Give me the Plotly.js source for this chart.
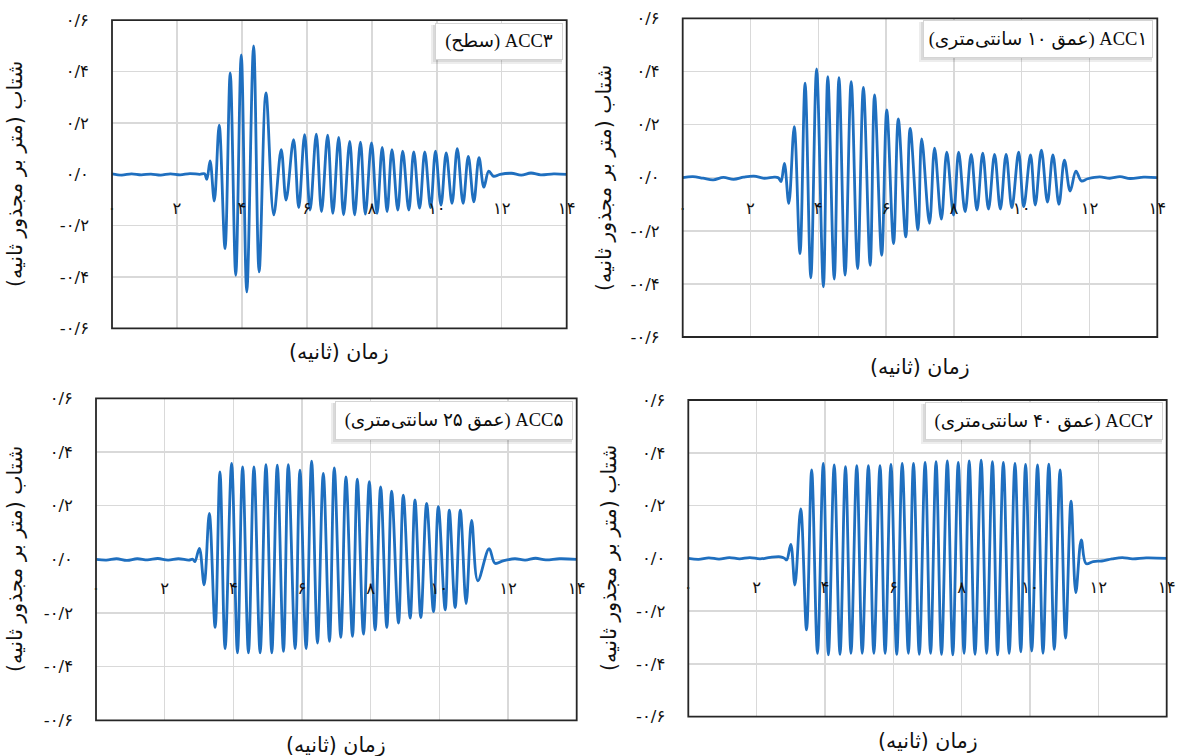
<!DOCTYPE html>
<html>
<head>
<meta charset="utf-8">
<script src="https://cdn.plot.ly/plotly-3.0.1.min.js"></script>
<style>
  html, body { margin: 0; padding: 0; background: #ffffff; }
  #chart { width: 1177px; height: 756px; }
</style>
</head>
<body>
<div id="chart"></div>
<script>
// Acceleration time histories at four sensor depths (time in s, acceleration in m/s²)

// ACC3 – surface
const acc3Time = [0, 0.3, 0.6, 0.9, 1.2, 1.5, 1.8, 2.1, 2.4, 2.7, 2.85,
  2.92, 3.02, 3.15, 3.30, 3.48, 3.64, 3.81, 3.98, 4.15, 4.36,
  4.53, 4.74, 4.98, 5.21, 5.36, 5.59, 5.75, 5.93, 6.10, 6.29,
  6.45, 6.64, 6.80, 6.98, 7.13, 7.32, 7.47, 7.65, 7.80, 7.99,
  8.16, 8.32, 8.47, 8.62, 8.80, 8.95, 9.14, 9.29, 9.47, 9.63,
  9.81, 9.96, 10.13, 10.29, 10.47, 10.63, 10.81, 10.97, 11.14, 11.30,
  11.45, 11.60, 11.75,
  11.95, 12.3, 12.6, 12.9, 13.2, 13.6, 14.0];
const acc3Accel = [0.002, -0.003, 0.002, -0.002, 0.001, -0.003, 0.002, -0.002, 0.003, 0.000, 0.002,
  -0.020, 0.052, -0.104, 0.191, -0.289, 0.395, -0.393, 0.465, -0.458, 0.500,
  -0.380, 0.317, -0.158, 0.096, -0.100, 0.135, -0.130, 0.154, -0.139, 0.156,
  -0.145, 0.152, -0.152, 0.144, -0.158, 0.128, -0.158, 0.125, -0.155, 0.122,
  -0.152, 0.105, -0.145, 0.096, -0.139, 0.090, -0.139, 0.087, -0.132, 0.087,
  -0.130, 0.090, -0.120, 0.083, -0.113, 0.100, -0.113, 0.070, -0.107, 0.065,
  -0.050, 0.012, -0.008,
  0.000, 0.004, -0.003, 0.005, -0.002, 0.002, 0.000];

// ACC1 – 10 cm depth
const acc1Time = [0, 0.3, 0.6, 0.9, 1.2, 1.5, 1.8, 2.1, 2.4, 2.7, 2.82,
  2.90, 3.00, 3.13, 3.29, 3.46, 3.61, 3.78, 3.95, 4.15, 4.28,
  4.47, 4.61, 4.79, 4.97, 5.16, 5.33, 5.53, 5.66, 5.87, 6.02,
  6.22, 6.36, 6.58, 6.71, 6.94, 7.05, 7.28, 7.43, 7.63, 7.79,
  7.99, 8.14, 8.33, 8.51, 8.68, 8.85, 9.02, 9.20, 9.37, 9.54,
  9.71, 9.91, 10.06, 10.26, 10.40, 10.58, 10.76, 10.92, 11.10, 11.26,
  11.43, 11.60, 11.76,
  11.95, 12.3, 12.6, 12.9, 13.2, 13.6, 14.0];
const acc1Accel = [0.000, 0.004, -0.002, -0.008, 0.001, -0.006, 0.002, 0.006, -0.002, 0.002, 0.000,
  -0.015, 0.054, -0.097, 0.192, -0.286, 0.356, -0.377, 0.410, -0.411, 0.381,
  -0.382, 0.377, -0.367, 0.362, -0.342, 0.340, -0.330, 0.312, -0.292, 0.255,
  -0.248, 0.221, -0.223, 0.186, -0.197, 0.146, -0.172, 0.111, -0.156, 0.096,
  -0.141, 0.096, -0.128, 0.088, -0.122, 0.092, -0.118, 0.088, -0.118, 0.088,
  -0.113, 0.096, -0.109, 0.086, -0.103, 0.104, -0.092, 0.086, -0.100, 0.066,
  -0.050, 0.025, -0.012,
  -0.004, 0.003, -0.002, 0.004, -0.003, 0.002, 0.000];

// ACC5 – 25 cm depth
const acc5Time = [0, 0.3, 0.6, 0.9, 1.2, 1.5, 1.8, 2.1, 2.4, 2.7, 2.82,
  2.88, 3.01, 3.15, 3.30, 3.47, 3.61, 3.76, 3.95, 4.12, 4.27,
  4.44, 4.60, 4.78, 4.95, 5.12, 5.28, 5.46, 5.60, 5.80, 5.94,
  6.12, 6.28, 6.45, 6.62, 6.80, 6.94, 7.13, 7.28, 7.47, 7.61,
  7.79, 7.96, 8.13, 8.29, 8.47, 8.61, 8.81, 8.95, 9.15, 9.29,
  9.46, 9.63, 9.83, 9.97, 10.17, 10.29, 10.46, 10.61, 10.78, 10.94,
  11.12, 11.45, 11.62,
  11.85, 12.2, 12.5, 12.8, 13.1, 13.5, 14.0];
const acc5Accel = [0.000, -0.003, 0.002, -0.004, 0.002, -0.002, 0.003, -0.003, 0.002, -0.003, 0.000,
  -0.009, 0.041, -0.095, 0.171, -0.254, 0.326, -0.333, 0.357, -0.349, 0.344,
  -0.349, 0.344, -0.349, 0.353, -0.349, 0.351, -0.343, 0.353, -0.333, 0.332,
  -0.333, 0.366, -0.312, 0.320, -0.306, 0.341, -0.291, 0.307, -0.287, 0.299,
  -0.279, 0.289, -0.263, 0.270, -0.254, 0.254, -0.238, 0.239, -0.219, 0.221,
  -0.217, 0.208, -0.195, 0.196, -0.188, 0.183, -0.180, 0.183, -0.165, 0.145,
  -0.080, 0.040, -0.015,
  -0.006, 0.002, -0.003, 0.004, -0.002, 0.002, 0.000];

// ACC2 – 40 cm depth
const acc2Time = [0, 0.3, 0.6, 0.9, 1.2, 1.5, 1.8, 2.1, 2.4, 2.7, 2.82,
  2.88, 3.00, 3.12, 3.29, 3.46, 3.61, 3.78, 3.95, 4.10, 4.27,
  4.44, 4.60, 4.76, 4.93, 5.09, 5.27, 5.43, 5.61, 5.76, 5.93,
  6.10, 6.26, 6.44, 6.59, 6.76, 6.93, 7.09, 7.25, 7.41, 7.58,
  7.74, 7.90, 8.07, 8.22, 8.39, 8.57, 8.73, 8.90, 9.05, 9.22,
  9.39, 9.56, 9.73, 9.87, 10.05, 10.22, 10.38, 10.55, 10.71, 10.88,
  11.04, 11.20, 11.34, 11.50, 11.64,
  11.85, 12.1, 12.4, 12.7, 13.0, 13.4, 14.0];
const acc2Accel = [0.000, -0.004, 0.002, -0.003, 0.003, -0.002, 0.003, -0.002, 0.004, 0.006, 0.000,
  -0.006, 0.053, -0.101, 0.187, -0.271, 0.335, -0.360, 0.360, -0.366, 0.354,
  -0.364, 0.347, -0.360, 0.351, -0.360, 0.351, -0.360, 0.351, -0.360, 0.356,
  -0.364, 0.360, -0.360, 0.360, -0.364, 0.364, -0.360, 0.366, -0.364, 0.369,
  -0.366, 0.364, -0.360, 0.369, -0.364, 0.372, -0.360, 0.366, -0.366, 0.364,
  -0.360, 0.360, -0.354, 0.356, -0.351, 0.354, -0.360, 0.357, -0.345, 0.335,
  -0.302, 0.217, -0.130, 0.070, -0.020,
  -0.012, -0.010, -0.002, 0.003, -0.002, 0.002, 0.000];

// Axis ticks and labels (Persian numerals)
const timeTickVals = [0, 2, 4, 6, 8, 10, 12, 14];
const timeTickText = ['۰', '۲', '۴', '۶', '۸', '۱۰', '۱۲', '۱۴'];
const accelTickVals = [-0.6, -0.4, -0.2, 0, 0.2, 0.4, 0.6];
const accelTickText = ['-۰/۶', '-۰/۴', '-۰/۲', '۰/۰', '۰/۲', '۰/۴', '۰/۶'];

const seriesNames = ['ACC۳ (سطح)', 'ACC۱ (عمق ۱۰ سانتی\u200cمتری)',
                     'ACC۵ (عمق ۲۵ سانتی\u200cمتری)', 'ACC۲ (عمق ۴۰ سانتی\u200cمتری)'];
const xTitleText = 'زمان (ثانیه)';
const yTitleText = 'شتاب (متر بر مجذور ثانیه)';

// ---------------------------------------------------------------
const W = 1177, H = 756;
const fx = px => px / W;
const fy = py => 1 - py / H;
const rtl = s => '\u202B' + s + '\u202C';

const series = [
  { t: acc3Time, a: acc3Accel },
  { t: acc1Time, a: acc1Accel },
  { t: acc5Time, a: acc5Accel },
  { t: acc2Time, a: acc2Accel }
];

// panel frames in page pixels, name boxes, time-label drop and title anchors
const panels = [
  { l: 112,   r: 566.7,  t: 20.2,  b: 328.4, lab: 22, box: { l: 435, r: 563,  t: 23,  b: 60 },  xt: [339, 352], yt: [15, 174] },
  { l: 682.7, r: 1157.3, t: 18.4,  b: 337,   lab: 19, box: { l: 923, r: 1153, t: 20,  b: 58 },  xt: [920, 367], yt: [604, 178] },
  { l: 96,    r: 576.7,  t: 398.3, b: 720.3, lab: 17, box: { l: 335, r: 573,  t: 401, b: 440 }, xt: [336, 745], yt: [15, 559] },
  { l: 688.3, r: 1166.7, t: 400,   b: 716.7, lab: 17, box: { l: 925, r: 1163, t: 402, b: 440 }, xt: [928, 741], yt: [609, 558] }
];

const lineBlue = '#1f6fbf';
const gridGrey = '#d9d9d9';
const tickFont = { family: 'DejaVu Sans, sans-serif', size: 16.5, color: '#111111' };
const titleFont = { family: 'DejaVu Sans, sans-serif', size: 20.5, color: '#111111' };
const boxFont = { family: 'Liberation Serif, DejaVu Sans, serif', size: 18.5, color: '#0d0d0d' };

const traces = [];
const layout = {
  width: W, height: H,
  margin: { l: 0, r: 0, t: 0, b: 0 },
  paper_bgcolor: '#ffffff',
  plot_bgcolor: '#ffffff',
  showlegend: false,
  shapes: [],
  annotations: []
};

panels.forEach((p, i) => {
  const n = i === 0 ? '' : String(i + 1);
  const xa = 'x' + n, ya = 'y' + n;

  traces.push({
    type: 'scatter', mode: 'lines',
    x: series[i].t, y: series[i].a,
    xaxis: xa, yaxis: ya,
    name: seriesNames[i],
    line: { color: lineBlue, width: 2.8, shape: 'spline', smoothing: 1 },
    hoverinfo: 'skip'
  });

  // time labels sit a little below the zero line, as in the spreadsheet style
  const zeroPx = (p.t + p.b) / 2;
  layout['xaxis' + n] = {
    domain: [fx(p.l), fx(p.r)],
    range: [0, 14],
    anchor: 'free',
    position: fy(zeroPx + p.lab),
    tickmode: 'array', tickvals: timeTickVals, ticktext: timeTickText,
    ticks: '', showline: false, zeroline: false,
    showgrid: true, gridcolor: gridGrey, gridwidth: 1.5,
    tickfont: tickFont, fixedrange: true
  };
  layout['yaxis' + n] = {
    domain: [fy(p.b), fy(p.t)],
    range: [-0.6, 0.6],
    anchor: xa,
    tickmode: 'array', tickvals: accelTickVals, ticktext: accelTickText,
    ticks: '', showline: false, zeroline: false,
    showgrid: true, gridcolor: gridGrey, gridwidth: 1.5,
    ticklabelstandoff: 22,
    tickfont: tickFont, fixedrange: true
  };

  // plot frame
  layout.shapes.push({
    type: 'rect', xref: xa + ' domain', yref: ya + ' domain',
    x0: 0, x1: 1, y0: 0, y1: 1,
    line: { color: '#262626', width: 1.8 }, layer: 'above'
  });

  // soft drop shadow behind the series name box
  const bx = p.box;
  [[4, 0.07], [2, 0.08]].forEach(([o, a]) => {
    layout.shapes.push({
      type: 'rect', xref: 'paper', yref: 'paper',
      x0: fx(bx.l - o), x1: fx(bx.r - 1), y0: fy(bx.b + o), y1: fy(bx.t + 2),
      fillcolor: 'rgba(0,0,0,' + a + ')', line: { width: 0 }, layer: 'above'
    });
  });

  layout.annotations.push({
    xref: 'paper', yref: 'paper',
    x: fx((bx.l + bx.r) / 2), y: fy((bx.t + bx.b) / 2),
    xanchor: 'center', yanchor: 'middle',
    text: rtl(seriesNames[i]), showarrow: false,
    width: bx.r - bx.l - 2, height: bx.b - bx.t - 2,
    align: 'center', valign: 'middle',
    bgcolor: '#ffffff', bordercolor: '#d4d4d4', borderwidth: 1, borderpad: 0,
    font: boxFont
  });

  // axis titles
  layout.annotations.push({
    xref: 'paper', yref: 'paper',
    x: fx(p.xt[0]), y: fy(p.xt[1]),
    xanchor: 'center', yanchor: 'middle',
    text: rtl(xTitleText), showarrow: false, font: titleFont
  });
  layout.annotations.push({
    xref: 'paper', yref: 'paper',
    x: fx(p.yt[0]), y: fy(p.yt[1]),
    xanchor: 'center', yanchor: 'middle', textangle: -90,
    text: rtl(yTitleText), showarrow: false, font: titleFont
  });
});

Plotly.newPlot('chart', traces, layout, { staticPlot: true, displayModeBar: false });
</script>
</body>
</html>
